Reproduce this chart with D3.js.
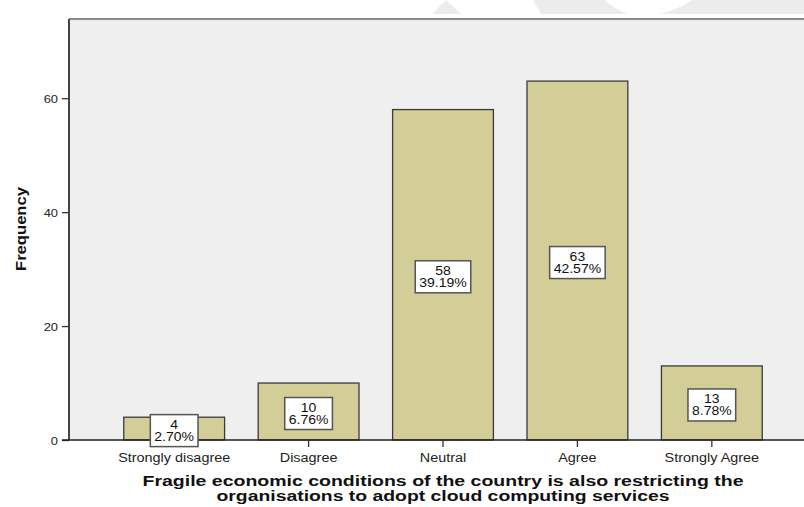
<!DOCTYPE html>
<html>
<head>
<meta charset="utf-8">
<script src="https://cdn.jsdelivr.net/npm/d3@7"></script>
<style>
  html, body { margin: 0; padding: 0; background: #ffffff; overflow: hidden; }
  svg { display: block; font-family: "Liberation Sans", Arial, sans-serif; }
</style>
</head>
<body>
<svg id="chart" width="804" height="507"></svg>
<script>
// ---- data ----
const categories = ["Strongly disagree", "Disagree", "Neutral", "Agree", "Strongly Agree"];
const counts = [4, 10, 58, 63, 13];
const percentLabels = ["2.70%", "6.76%", "39.19%", "42.57%", "8.78%"];
const yTicks = [0, 20, 40, 60];
const yLabel = "Frequency";
const xTitleLines = [
  "Fragile economic conditions of the country is also restricting the",
  "organisations to adopt cloud computing services"
];

const svg = d3.select("#chart");

// stretch helper: widen text horizontally (reference font is wider than Arial)
function stretch(sel, factor) {
  sel.each(function () {
    const w = this.getComputedTextLength();
    d3.select(this).attr("textLength", w * factor).attr("lengthAdjust", "spacingAndGlyphs");
  });
}

// faint watermark shapes at the very top (from source picture)
svg.append("path").attr("d", "M432,14 L446,0 L461,14 Z").attr("fill", "#ececec");
svg.append("path").attr("d", "M533,0 L605,0 Q612,8 628,14 L541,14 Z").attr("fill", "#ececec");
svg.append("path").attr("d", "M661,14 Q680,8 693,0 L804,0 L804,14 Z").attr("fill", "#ececec");

// scales
const plotLeft = 69, plotTop = 19, plotBottom = 440;
const x = d3.scaleBand().domain(categories).range([70, 816]).paddingInner(0.25).paddingOuter(0.4);
const y = d3.scaleLinear().domain([0, 73.9]).range([plotBottom, plotTop]);

// plot background
svg.append("rect").attr("x", plotLeft).attr("y", plotTop).attr("width", 804 - plotLeft).attr("height", plotBottom - plotTop)
  .attr("fill", "#efefef");
svg.append("line").attr("x1", plotLeft).attr("x2", 804).attr("y1", plotTop).attr("y2", plotTop)
  .attr("stroke", "#8a8a8a").attr("stroke-width", 2.2);

// bars
svg.append("g").selectAll("rect").data(categories).join("rect")
  .attr("x", d => x(d))
  .attr("y", (d, i) => y(counts[i]))
  .attr("width", x.bandwidth())
  .attr("height", (d, i) => y(0) - y(counts[i]))
  .attr("fill", "#d3ce98")
  .attr("stroke", "#3a3a3a")
  .attr("stroke-width", 1.3);

// y axis
const yAxis = d3.axisLeft(y).tickValues(yTicks).tickSize(7).tickPadding(4).tickFormat(d3.format("d"));
const gy = svg.append("g").attr("transform", `translate(${plotLeft},0)`).call(yAxis);
gy.select(".domain").attr("d", `M0,${plotTop}V${plotBottom}`).attr("stroke", "#444").attr("stroke-width", 2);
gy.selectAll(".tick line").attr("stroke", "#333").attr("stroke-width", 1.3);
gy.selectAll(".tick text").attr("font-size", 11.5).attr("fill", "#222")
  .attr("font-family", "Liberation Sans, Arial, sans-serif").attr("dy", "0.36em");
stretch(gy.selectAll(".tick text"), 1.12);

// x axis
const xAxis = d3.axisBottom(x).tickSize(7).tickPadding(6);
const gx = svg.append("g").attr("transform", `translate(0,${plotBottom})`).call(xAxis);
gx.select(".domain").attr("d", `M62,0H804`).attr("stroke", "#222").attr("stroke-width", 1.5);
gx.selectAll(".tick line").attr("stroke", "#333").attr("stroke-width", 1.3);
gx.selectAll(".tick text").attr("font-size", 12).attr("fill", "#222")
  .attr("font-family", "Liberation Sans, Arial, sans-serif").attr("dy", "0.71em");
stretch(gx.selectAll(".tick text"), 1.2);

// value label boxes
const labels = svg.append("g");
categories.forEach((c, i) => {
  const cx = x(c) + x.bandwidth() / 2;
  const cy = y(counts[i] / 2) + 2;
  const g = labels.append("g");
  const rect = g.append("rect");
  const t1 = g.append("text").attr("x", cx).attr("y", cy - 2).attr("text-anchor", "middle")
    .attr("font-size", 12.5).attr("fill", "#111").text(counts[i]);
  const t2 = g.append("text").attr("x", cx).attr("y", cy + 10.5).attr("text-anchor", "middle")
    .attr("font-size", 12.5).attr("fill", "#111").text(percentLabels[i]);
  stretch(t1, 1.12); stretch(t2, 1.12);
  const w = Math.max(+t1.attr("textLength"), +t2.attr("textLength")) + 8;
  rect.attr("x", cx - w / 2).attr("y", cy - 16).attr("width", w).attr("height", 32)
    .attr("fill", "#ffffff").attr("stroke", "#555").attr("stroke-width", 1.5);
});

// y axis title
svg.append("text")
  .attr("transform", "translate(26,229) rotate(-90)")
  .attr("text-anchor", "middle")
  .attr("font-size", 14).attr("font-weight", "bold").attr("fill", "#111")
  .attr("textLength", 84).attr("lengthAdjust", "spacingAndGlyphs")
  .text(yLabel);

// x axis title
const titleWidths = [601, 453];
const titleY = [486, 501];
xTitleLines.forEach((line, i) => {
  svg.append("text")
    .attr("x", 443).attr("y", titleY[i])
    .attr("text-anchor", "middle")
    .attr("font-size", 14.5).attr("font-weight", "bold").attr("fill", "#111")
    .attr("textLength", titleWidths[i]).attr("lengthAdjust", "spacingAndGlyphs")
    .text(line);
});
</script>
</body>
</html>
